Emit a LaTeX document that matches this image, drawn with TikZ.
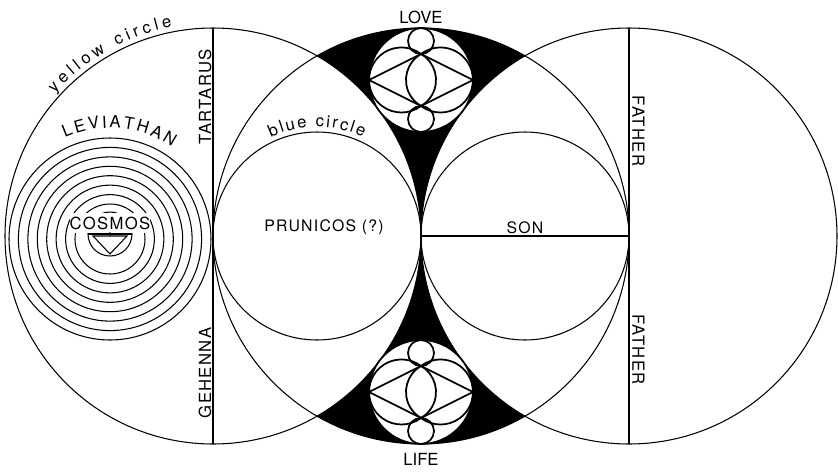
\documentclass[tikz,border=0pt]{standalone}
\usepackage{fontspec}
\setmainfont{TeX Gyre Heros}
\newfontfamily\spaced[LetterSpace=8]{TeX Gyre Heros}
\newcommand\arcfont{\fontsize{9.5}{11}\selectfont}
\usepackage{tikz}
\usetikzlibrary{calc, decorations.text}

\begin{document}
\begin{tikzpicture}[
    x=0.02cm, y=0.02cm,
    line width=0.6pt,
    lab/.style={font=\spaced\fontsize{9.5}{11}\selectfont, inner sep=0pt},
    small/.style={font=\spaced\fontsize{9}{10}\selectfont, inner sep=0pt},
    seal/.style={line width=1pt},
    arclab/.style={decorate, decoration={text along path, text align={fit to path}, text={|\arcfont|#1}}}
]
    \useasboundingbox (-421,-235) rectangle (417,236);

    % Centres
    \coordinate (yc) at (-208,0);
    \coordinate (mc) at (0,0);
    \coordinate (fc) at (208,0);
    \coordinate (bc) at (-104,0);
    \coordinate (sc) at (104,0);
    \coordinate (lv) at (-311,-3);
    \coordinate (cs) at (-311,2);

    % Black regions
    \fill (mc) arc[start angle=0, end angle=60, radius=208]
        arc[start angle=120, end angle=60, radius=208]
        arc[start angle=120, end angle=180, radius=208] -- cycle;
    \fill (mc) arc[start angle=0, end angle=-60, radius=208]
        arc[start angle=-120, end angle=-60, radius=208]
        arc[start angle=-120, end angle=-180, radius=208] -- cycle;

    % Big circles
    \draw (yc) circle[radius=208];
    \draw (mc) circle[radius=208];
    \draw (fc) circle[radius=208];
    \draw (bc) circle[radius=104];
    \draw (sc) circle[radius=104];
    \draw (-208,208) -- (-208,-208);
    \draw (208,208) -- (208,-208);
    \draw (mc) -- (fc);

    % Leviathan
    \foreach \r in {35, 44.4, 53.9, 63.3, 72.7, 82.1, 91.6, 101}
        \draw (lv) circle[radius=\r];
    \draw (cs) circle[radius=22];
    \node[lab, fill=white, inner ysep=2pt] (cosmos) at (-311,13) {COSMOS};
    \draw (-333,2) -- (-289,2);
    \draw (-328,0) -- (-294,0) -- (-311,-18) -- cycle;
    \fill (cs) circle[radius=1.8];

    % Love and Life
    \foreach \cy in {156,-156} {
        \begin{scope}[shift={(0,\cy)}]
            \fill[white] (0,0) circle[radius=52];
            \draw[seal] (0,0) circle[radius=52];
            \draw[seal] (0,39) circle[radius=13] (0,-39) circle[radius=13];
            \draw[seal] (-52,0) -- (0,26) -- (52,0) -- (0,-26) -- cycle;
            \draw[seal] (0,26) arc[start angle=53.13, end angle=306.87, radius=32.5];
            \draw[seal] (0,26) arc[start angle=126.87, end angle=-126.87, radius=32.5];
            \draw[seal] (0,26) arc[start angle=120, end angle=240, radius=30];
            \draw[seal] (0,26) arc[start angle=60, end angle=-60, radius=30];
        \end{scope}
    }

    % Labels
    \node[font=\fontsize{9.5}{11}\selectfont, inner sep=0pt] (love) at (0,218.5) {LOVE};
    \node[font=\fontsize{9.5}{11}\selectfont, inner sep=0pt] (life) at (0,-223) {LIFE};
    \node[lab, rotate=90] (tartarus) at (-216,139) {TARTARUS};
    \node[lab, rotate=90] (gehenna) at (-216,-137) {GEHENNA};
    \node[lab, rotate=-90] (father1) at (217.5,105) {FATHER};
    \node[lab, rotate=-90] (father2) at (217.5,-113.5) {FATHER};
    \node[small] (son) at (104,8) {SON};
    \node[small] (prunicos) at (-97,9) {PRUNICOS (?)};

    \path[arclab=yellow circle] ($(yc)+(138:213)$) arc[start angle=138, end angle=101, radius=213];
    \path[arclab=blue circle] ($(bc)+(115:109)$) arc[start angle=115, end angle=65, radius=109];
    \path[arclab=LEVIATHAN] ($(lv)+(114:111)$) arc[start angle=114, end angle=56, radius=111];
\end{tikzpicture}
\end{document}
